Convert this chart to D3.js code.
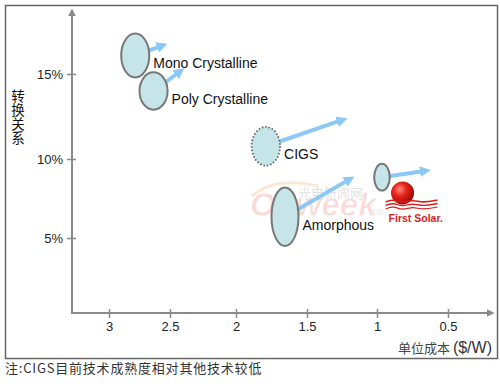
<!DOCTYPE html>
<html>
<head>
<meta charset="utf-8">
<script src="https://cdn.jsdelivr.net/npm/d3@7"></script>
<style>
  body { margin: 0; background: #fff; }
  text { font-family: "Liberation Sans", Arial, sans-serif; }
</style>
</head>
<body>
<div id="chart"></div>
<script>
// global const
const width = 500, height = 387;

// data: cost in $/W, efficiency in %
const techNames  = ["Mono Crystalline", "Poly Crystalline", "CIGS", "", "Amorphous"];
const costRange  = [[2.90, 2.67], [2.75, 2.52], [1.89, 1.69], [1.02, 0.91], [1.75, 1.56]];
const effRange   = [[14.8, 17.4], [12.9, 15.1], [9.6, 11.9], [8.0, 9.7], [4.5, 8.2]];
const targetCost = [2.52, 2.39, 1.21, 0.62, 1.16];
const targetEff  = [16.8, 15.35, 12.4, 9.3, 8.9];
const dotted     = [false, false, true, false, false];
const firstSolar = { cost: 0.82, eff: 7.85 };

const xTicks = [3, 2.5, 2, 1.5, 1, 0.5];
const yTicks = [5, 10, 15];

const colors = { axis: "#8a8a8a", fill: "#c6e5e8", stroke: "#777", arrow: "#8cc8f5", red: "#d81e1e" };

var svg = d3.select("#chart")
    .append("svg")
    .attr("width", width)
    .attr("height", height)

// the original axis is not evenly spaced, so piecewise scales
var xScale = d3.scaleLinear()
    .domain([3.3, 3, 2.5, 2, 1.5, 1, 0.5, 0.18])
    .range([72, 109, 170, 236, 307, 377, 448, 493])

var yScale = d3.scaleLinear()
    .domain([0.25, 5, 10, 15, 18.8])
    .range([313, 238, 159, 74, 10])

const defs = svg.append("defs");

defs.append("marker")
    .attr("id", "axis-head")
    .attr("viewBox", "0 0 10 10")
    .attr("refX", 8).attr("refY", 5)
    .attr("markerUnits", "userSpaceOnUse")
    .attr("markerWidth", 8).attr("markerHeight", 8)
    .attr("orient", "auto")
    .append("path")
    .attr("d", "M0,0 L10,5 L0,10 z")
    .attr("fill", colors.axis)

defs.append("marker")
    .attr("id", "blue-head")
    .attr("viewBox", "0 0 10 10")
    .attr("refX", 1).attr("refY", 5)
    .attr("markerUnits", "userSpaceOnUse")
    .attr("markerWidth", 11).attr("markerHeight", 11)
    .attr("orient", "auto")
    .append("path")
    .attr("d", "M0,0 L10,5 L0,10 z")
    .attr("fill", colors.arrow)

const sun = defs.append("radialGradient")
    .attr("id", "sun").attr("cx", "38%").attr("cy", "35%").attr("r", "65%")
sun.append("stop").attr("offset", "0%").attr("stop-color", "#ff8a78")
sun.append("stop").attr("offset", "45%").attr("stop-color", "#e8241a")
sun.append("stop").attr("offset", "100%").attr("stop-color", "#9a0a05")

// frame
svg.append("rect")
    .attr("x", 5.5).attr("y", 5.5)
    .attr("width", 492).attr("height", 353)
    .attr("fill", "none")
    .attr("stroke", "#666")
    .attr("stroke-width", 1.5)

// watermark (faint, behind everything)
const wm = svg.append("g").attr("opacity", 0.6)
wm.append("path")
    .attr("d", "M252,196 Q275,176 318,186")
    .attr("fill", "none").attr("stroke", "#f7d9b8").attr("stroke-width", 3)
wm.append("text")
    .attr("x", 250).attr("y", 216)
    .attr("font-size", 33).attr("font-weight", "bold").attr("font-style", "italic")
    .attr("fill", "#f6c3bc")
    .attr("stroke", "#fff").attr("stroke-width", 0.8)
    .text("OFweek")
wm.append("text")
    .attr("x", 370).attr("y", 215)
    .attr("font-size", 10).attr("fill", "#d8d8d8")
    .text(".co")
wm.append("text")
    .attr("x", 298).attr("y", 198)
    .attr("font-size", 13).attr("fill", "#d0d0d0")
    .style("font-family", "'Noto Sans CJK SC'")
    .text("光电新闻网")

// axes
const x0 = xScale(3.3), y0 = yScale(0.25)

svg.append("line")
    .attr("x1", x0).attr("y1", y0)
    .attr("x2", x0).attr("y2", yScale(18.8))
    .attr("stroke", colors.axis).attr("stroke-width", 2)
    .attr("marker-end", "url(#axis-head)")

svg.append("line")
    .attr("x1", x0 - 1).attr("y1", y0)
    .attr("x2", xScale(0.18)).attr("y2", y0)
    .attr("stroke", colors.axis).attr("stroke-width", 2)
    .attr("marker-end", "url(#axis-head)")

const yAxis = svg.append("g")
    .attr("transform", `translate(${x0},0)`)
    .call(d3.axisLeft(yScale).tickValues(yTicks).tickFormat(d => d + "%").tickSize(6).tickPadding(3))
yAxis.select(".domain").remove()
yAxis.selectAll(".tick line").attr("x1", 4).attr("x2", -5).attr("stroke", colors.axis).attr("stroke-width", 1.5)
yAxis.selectAll(".tick text").attr("font-size", 13).attr("fill", "#222").style("font-family", "'Liberation Sans', Arial")

const xAxis = svg.append("g")
    .attr("transform", `translate(0,${y0})`)
    .call(d3.axisBottom(xScale).tickValues(xTicks).tickFormat(d => d).tickSize(5).tickPadding(4))
xAxis.select(".domain").remove()
xAxis.selectAll(".tick line").attr("y1", -4).attr("y2", 5).attr("stroke", colors.axis).attr("stroke-width", 1.5)
xAxis.selectAll(".tick text").attr("font-size", 13).attr("fill", "#222").style("font-family", "'Liberation Sans', Arial")

// axis titles
svg.append("text")
    .attr("x", 18).attr("y", 89)
    .attr("text-anchor", "middle")
    .attr("font-size", 13.5).attr("fill", "#111")
    .style("font-family", "'Noto Sans CJK SC'")
    .selectAll("tspan")
    .data(["转", "换", "关", "系"])
    .join("tspan")
    .attr("x", 18)
    .attr("dy", (d, i) => i == 0 ? 12 : 14)
    .text(d => d)

const xTitle = svg.append("text")
    .attr("x", 492).attr("y", 353)
    .attr("text-anchor", "end")
    .attr("fill", "#333")
xTitle.append("tspan")
    .attr("font-size", 13)
    .attr("fill", "#444")
    .style("font-family", "'Noto Sans CJK SC'")
    .text("单位成本 ")
xTitle.append("tspan")
    .attr("font-size", 16)
    .text("($/W)")

// footnote
svg.append("text")
    .attr("x", 5).attr("y", 373)
    .attr("font-size", 13).attr("fill", "#333")
    .attr("letter-spacing", 0.8)
    .style("font-family", "'Noto Sans CJK SC'")
    .text("注:CIGS目前技术成熟度相对其他技术较低")

// technology blobs
const techs = techNames.map((name, i) => ({
    name: name,
    cx: xScale(d3.mean(costRange[i])),
    cy: yScale(d3.mean(effRange[i])),
    rx: Math.abs(xScale(costRange[i][0]) - xScale(costRange[i][1])) / 2,
    ry: Math.abs(yScale(effRange[i][0]) - yScale(effRange[i][1])) / 2,
    tx: xScale(targetCost[i]),
    ty: yScale(targetEff[i]),
    dotted: dotted[i]
}))

// arrows first, the ellipses cover their tails
svg.selectAll(".trend")
    .data(techs)
    .join("line")
    .attr("class", "trend")
    .attr("x1", d => d.cx)
    .attr("y1", d => d.cy)
    .attr("x2", d => {
        var len = Math.hypot(d.tx - d.cx, d.ty - d.cy)
        return d.tx - (d.tx - d.cx) / len * 10
    })
    .attr("y2", d => {
        var len = Math.hypot(d.tx - d.cx, d.ty - d.cy)
        return d.ty - (d.ty - d.cy) / len * 10
    })
    .attr("stroke", colors.arrow)
    .attr("stroke-width", 4)
    .attr("marker-end", "url(#blue-head)")

svg.selectAll(".blob")
    .data(techs)
    .join("ellipse")
    .attr("class", "blob")
    .attr("cx", d => d.cx)
    .attr("cy", d => d.cy)
    .attr("rx", d => d.rx)
    .attr("ry", d => d.ry)
    .attr("fill", colors.fill)
    .attr("stroke", d => d.dotted ? "#666" : colors.stroke)
    .attr("stroke-width", d => d.dotted ? 1.8 : 2)
    .attr("stroke-dasharray", d => d.dotted ? "1.6,1.8" : null)

svg.selectAll(".label")
    .data(techs.filter(d => d.name))
    .join("text")
    .attr("class", "label")
    .attr("x", d => d.cx + d.rx + 4)
    .attr("y", d => d.cy + 13)
    .attr("font-size", 14)
    .attr("fill", "#111")
    .text(d => d.name)

// First Solar logo
const fsx = xScale(firstSolar.cost), fsy = yScale(firstSolar.eff)
const logo = svg.append("g").attr("transform", `translate(${fsx},${fsy})`)

logo.append("circle")
    .attr("r", 11.5)
    .attr("fill", "url(#sun)")

const wave = d3.line().curve(d3.curveBasis)
;[9, 12.5, 16].forEach((dy, k) => {
    logo.append("path")
        .attr("d", wave([[-17, dy], [-9, dy - 3], [0, dy + 1.5], [10, dy - 2.5], [20, dy + 1], [35, dy - 2]]))
        .attr("fill", "none")
        .attr("stroke", colors.red)
        .attr("stroke-width", 1.6 - k * 0.2)
})

logo.append("text")
    .attr("x", -14).attr("y", 29)
    .attr("font-size", 10.5)
    .attr("font-weight", "bold")
    .attr("fill", colors.red)
    .text("First Solar.")
</script>
</body>
</html>
